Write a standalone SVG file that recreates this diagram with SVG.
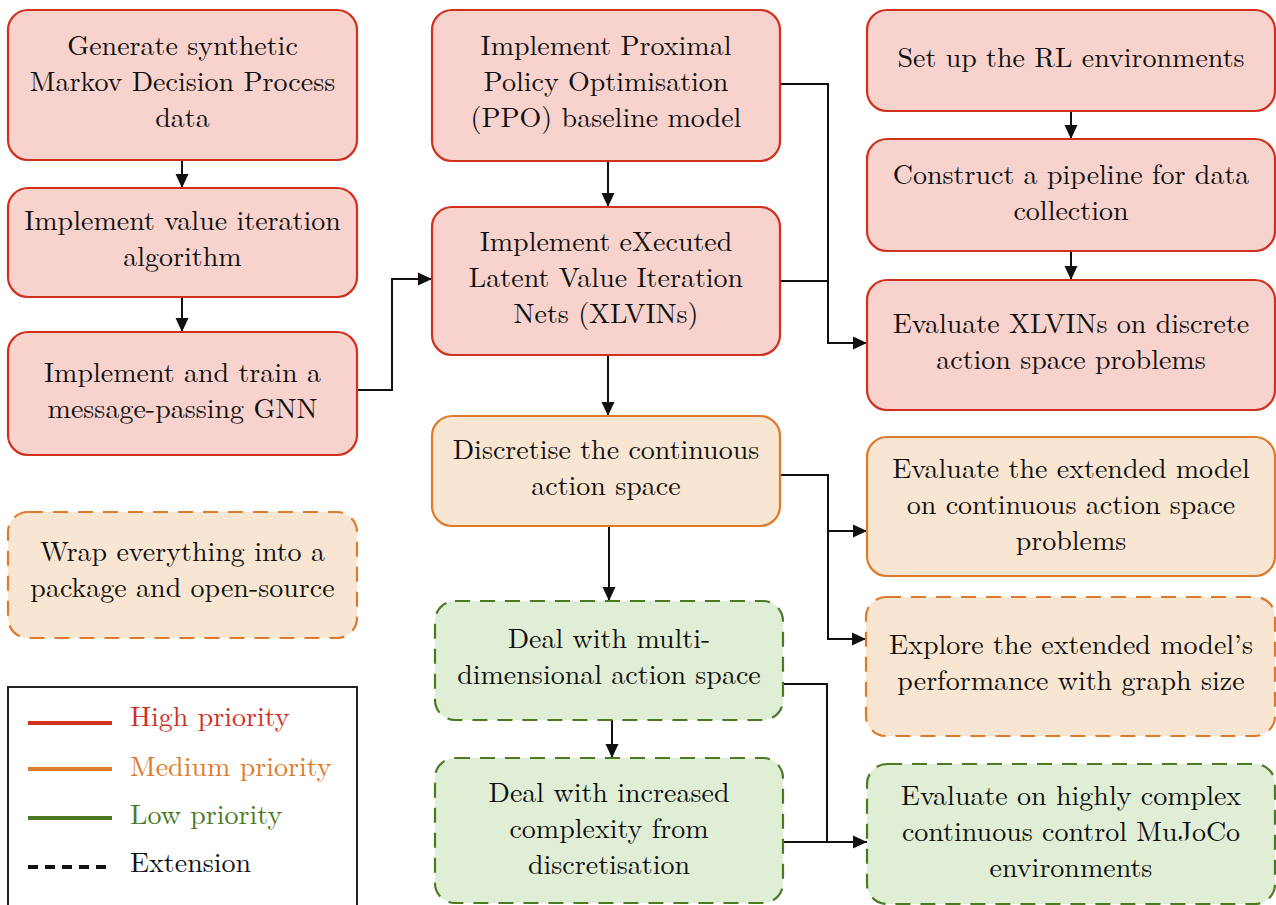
<svg xmlns="http://www.w3.org/2000/svg" width="1276" height="905" viewBox="0 0 1276 905">
  <defs>
    <style>
      text { font-family: 'Latin Modern Roman', 'Liberation Serif', serif; font-size: 28px; fill: #111; }
      .lbl { text-anchor: middle; }
      .box { stroke-width: 2.2; }
      .hi { fill: #f8d3cd; stroke: #d1301e; }
      .med { fill: #f8e6d2; stroke: #dd7a2b; }
      .low { fill: #e0eed6; stroke: #4b7a23; }
      .ext { stroke-dasharray: 15 10; }
      .conn path { fill: none; stroke: #111; stroke-width: 2; }
      .conn path.arr { marker-end: url(#head); }
    </style>
    <marker id="head" markerWidth="14" markerHeight="14" refX="14" refY="7" orient="auto" markerUnits="userSpaceOnUse">
      <path d="M0,0.5 L14,7 L0,13.5 z" fill="#111"/>
    </marker>
  </defs>
  <rect width="1276" height="905" fill="#fff"/>

  <!-- connectors -->
  <g id="connectors" class="conn">
    <path class="arr" d="M182 160 V188"/>
    <path class="arr" d="M182 297 V332"/>
    <path class="arr" d="M357 390 H392 V279 H432"/>
    <path class="arr" d="M608 161 V207"/>
    <path class="arr" d="M780 84 H828 V343 H867"/>
    <path d="M780 281 H828"/>
    <path class="arr" d="M1071 111 V139"/>
    <path class="arr" d="M1071 251 V280"/>
    <path class="arr" d="M608 355 V416"/>
    <path class="arr" d="M609 526 V601"/>
    <path class="arr" d="M780 475 H828 V639 H866"/>
    <path class="arr" d="M828 531 H867"/>
    <path class="arr" d="M612 720 V758"/>
    <path d="M783 684 H827 V842"/>
    <path class="arr" d="M783 842 H867"/>
  </g>

  <!-- left column -->
  <g id="gen-mdp">
    <rect class="box hi" x="8" y="10" width="349" height="150" rx="20"/>
    <text class="lbl" x="182.5" y="55">Generate synthetic</text>
    <text class="lbl" x="182.5" y="91">Markov Decision Process</text>
    <text class="lbl" x="182.5" y="127">data</text>
  </g>
  <g id="value-iteration">
    <rect class="box hi" x="8" y="188" width="349" height="109" rx="20"/>
    <text class="lbl" x="182.5" y="230">Implement value iteration</text>
    <text class="lbl" x="182.5" y="266">algorithm</text>
  </g>
  <g id="gnn">
    <rect class="box hi" x="8" y="332" width="349" height="123" rx="20"/>
    <text class="lbl" x="182.5" y="382">Implement and train a</text>
    <text class="lbl" x="182.5" y="418">message-passing GNN</text>
  </g>
  <g id="package">
    <rect class="box med ext" x="8" y="512" width="349" height="126" rx="20"/>
    <text class="lbl" x="182.5" y="561">Wrap everything into a</text>
    <text class="lbl" x="182.5" y="597">package and open-source</text>
  </g>

  <!-- legend -->
  <g id="legend">
    <rect x="8" y="687" width="349" height="230" fill="#fff" stroke="#222" stroke-width="2"/>
    <line x1="28" y1="723" x2="112" y2="723" stroke="#d1301e" stroke-width="4"/>
    <text x="130" y="726" style="fill:#d1301e">High priority</text>
    <line x1="28" y1="769" x2="112" y2="769" stroke="#dd7a2b" stroke-width="4"/>
    <text x="130" y="776" style="fill:#dd7a2b">Medium priority</text>
    <line x1="28" y1="818" x2="112" y2="818" stroke="#4b7a23" stroke-width="4"/>
    <text x="130" y="824" style="fill:#4b7a23">Low priority</text>
    <line x1="28" y1="867" x2="112" y2="867" stroke="#111" stroke-width="4" stroke-dasharray="10 7"/>
    <text x="130" y="872">Extension</text>
  </g>

  <!-- middle column -->
  <g id="ppo">
    <rect class="box hi" x="432" y="10" width="348" height="151" rx="20"/>
    <text class="lbl" x="606" y="55">Implement Proximal</text>
    <text class="lbl" x="606" y="91">Policy Optimisation</text>
    <text class="lbl" x="606" y="127">(PPO) baseline model</text>
  </g>
  <g id="xlvin">
    <rect class="box hi" x="432" y="207" width="348" height="148" rx="20"/>
    <text class="lbl" x="606" y="251">Implement eXecuted</text>
    <text class="lbl" x="606" y="287">Latent Value Iteration</text>
    <text class="lbl" x="606" y="323">Nets (XLVINs)</text>
  </g>
  <g id="discretise">
    <rect class="box med" x="432" y="416" width="348" height="110" rx="20"/>
    <text class="lbl" x="606" y="459">Discretise the continuous</text>
    <text class="lbl" x="606" y="495">action space</text>
  </g>
  <g id="multi-dim">
    <rect class="box low ext" x="435" y="601" width="348" height="119" rx="20"/>
    <text class="lbl" x="609" y="648">Deal with multi-</text>
    <text class="lbl" x="609" y="684">dimensional action space</text>
  </g>
  <g id="complexity">
    <rect class="box low ext" x="435" y="758" width="348" height="145" rx="20"/>
    <text class="lbl" x="609" y="802">Deal with increased</text>
    <text class="lbl" x="609" y="838">complexity from</text>
    <text class="lbl" x="609" y="874">discretisation</text>
  </g>

  <!-- right column -->
  <g id="rl-env">
    <rect class="box hi" x="867" y="10" width="408" height="101" rx="20"/>
    <text class="lbl" x="1071" y="67">Set up the RL environments</text>
  </g>
  <g id="pipeline">
    <rect class="box hi" x="867" y="139" width="408" height="112" rx="20"/>
    <text class="lbl" x="1071" y="184">Construct a pipeline for data</text>
    <text class="lbl" x="1071" y="220">collection</text>
  </g>
  <g id="eval-discrete">
    <rect class="box hi" x="867" y="280" width="408" height="130" rx="20"/>
    <text class="lbl" x="1071" y="333">Evaluate XLVINs on discrete</text>
    <text class="lbl" x="1071" y="369">action space problems</text>
  </g>
  <g id="eval-continuous">
    <rect class="box med" x="867" y="437" width="408" height="139" rx="20"/>
    <text class="lbl" x="1071" y="478">Evaluate the extended model</text>
    <text class="lbl" x="1071" y="514">on continuous action space</text>
    <text class="lbl" x="1071" y="550">problems</text>
  </g>
  <g id="graph-size">
    <rect class="box med ext" x="866" y="597" width="409" height="139" rx="20"/>
    <text class="lbl" x="1071" y="654">Explore the extended model’s</text>
    <text class="lbl" x="1071" y="690">performance with graph size</text>
  </g>
  <g id="mujoco">
    <rect class="box low ext" x="867" y="764" width="408" height="140" rx="20"/>
    <text class="lbl" x="1071" y="805">Evaluate on highly complex</text>
    <text class="lbl" x="1071" y="841">continuous control MuJoCo</text>
    <text class="lbl" x="1071" y="877">environments</text>
  </g>
</svg>
